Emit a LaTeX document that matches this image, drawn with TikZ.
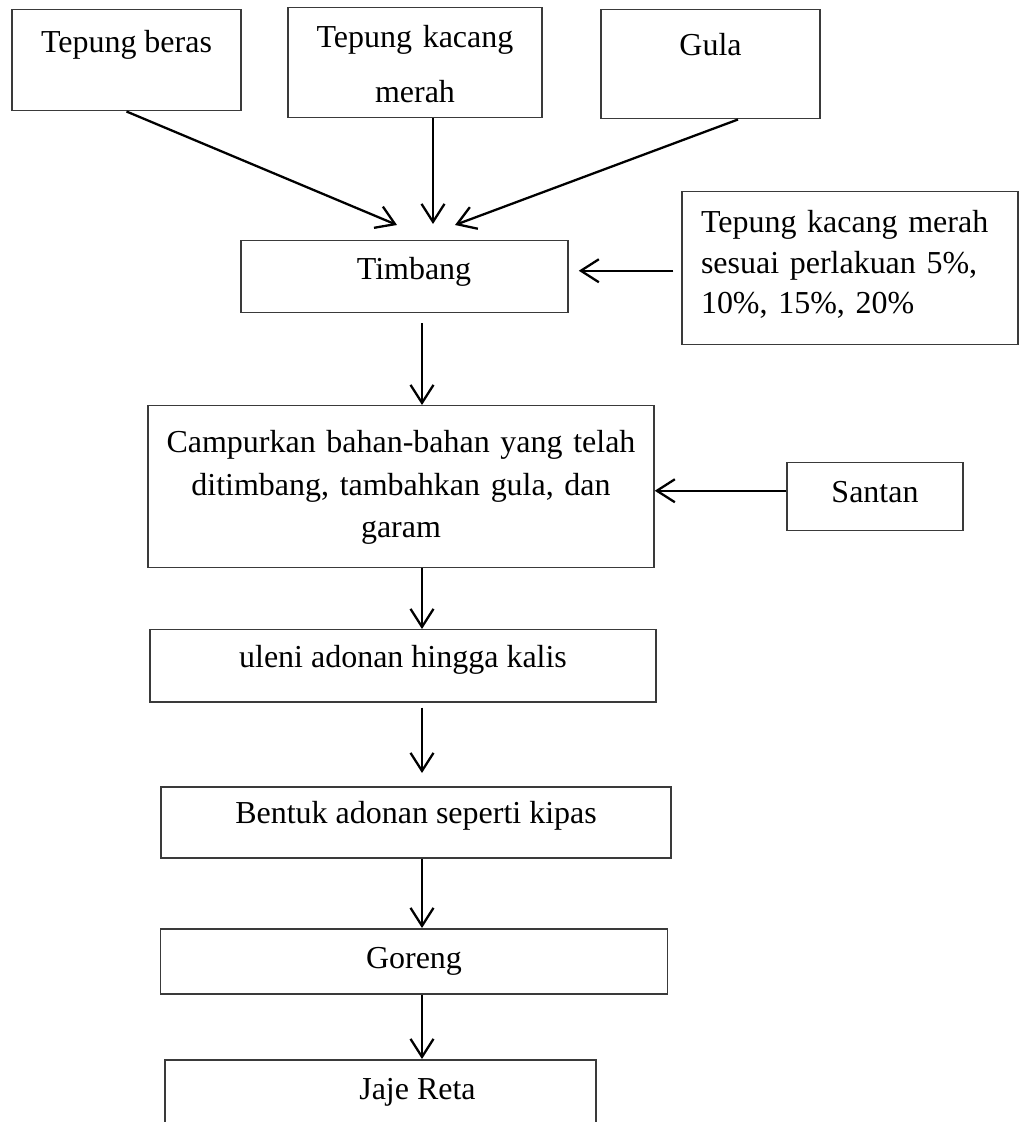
\documentclass[tikz,border=0pt]{standalone}
\usepackage{fontspec}
\setmainfont{Liberation Serif}
\usepackage{tikz}
\usetikzlibrary{arrows.meta,positioning,calc}
\definecolor{BoxLine}{HTML}{3A3A3A}
\tikzset{
  box/.style={draw=BoxLine,line width=0.85pt,inner sep=0pt,anchor=north,
    font=\fontsize{18.2}{23}\selectfont},
  arr/.style={-{Straight Barb[length=0.36cm,width=0.46cm]},line width=1.3pt},
}

\begin{document}
\begin{tikzpicture}[x=1cm,y=1cm]
  \useasboundingbox (0,0) rectangle (20.42,-22.44);
  \clip (0,0) rectangle (20.42,-22.44);

  \node[box,minimum width=4.58cm,minimum height=2.02cm,text height=0.86cm,text depth=1.16cm]
    (tb) at (2.53,-0.18) {Tepung beras};
  \node[box,minimum width=5.08cm,minimum height=2.20cm,text height=0.80cm,text depth=1.40cm,
    text width=5.0cm,align=center,font=\fontsize{18.2}{31.3}\selectfont]
    (tkm) at (8.30,-0.14) {Tepung kacang\\merah};
  \node[box,minimum width=4.38cm,minimum height=2.18cm,text height=0.92cm,text depth=1.26cm]
    (gula) at (14.21,-0.18) {Gula};

  \node[box,minimum width=6.54cm,minimum height=1.44cm,text height=0.78cm,text depth=0.66cm]
    (timbang) at (8.09,-4.80) {\hspace*{0.38cm}Timbang};
  \node[box,minimum width=6.72cm,minimum height=3.06cm,text height=0.82cm,text depth=2.24cm,
    text width=5.96cm,align=left]
    (tks) at (17.00,-3.82) {\makebox[\linewidth][s]{Tepung kacang merah}\\
      \makebox[\linewidth][s]{sesuai perlakuan 5\%,}\\10\%, 15\%, 20\%};

  \node[box,minimum width=10.12cm,minimum height=3.24cm,text height=0.94cm,text depth=2.30cm,
    text width=10.0cm,align=center,font=\fontsize{18.2}{24.2}\selectfont]
    (campur) at (8.02,-8.10) {Campurkan bahan-bahan yang telah\\ditimbang, tambahkan gula, dan\\garam};
  \node[box,minimum width=3.52cm,minimum height=1.36cm,text height=0.80cm,text depth=0.56cm]
    (santan) at (17.50,-9.24) {Santan};

  \node[box,minimum width=10.12cm,minimum height=1.44cm,text height=0.76cm,text depth=0.68cm]
    (uleni) at (8.06,-12.58) {uleni adonan hingga kalis};
  \node[box,minimum width=10.20cm,minimum height=1.42cm,text height=0.74cm,text depth=0.68cm]
    (bentuk) at (8.32,-15.72) {Bentuk adonan seperti kipas};
  \node[box,minimum width=10.13cm,minimum height=1.30cm,text height=0.80cm,text depth=0.50cm]
    (goreng) at (8.28,-18.56) {Goreng};
  \node[box,minimum width=8.62cm,minimum height=2.00cm,text height=0.80cm,text depth=1.20cm]
    (jaje) at (7.61,-21.18) {\hspace*{1.48cm}Jaje Reta};

  \coordinate (spine) at (8.44,0);

  \draw[arr] (tb.south) -- ($(timbang.north)+(-0.15,0.30)$);
  \draw[arr] ($(tkm.south)+(0.36,0)$) coordinate (tkmout) -- ($(tkmout |- timbang.north)+(0,0.32)$);
  \draw[arr] ($(gula.south)+(0.55,0)$) -- ($(timbang.north)+(1.01,0.30)$);
  \draw[arr] ($(tks.west)+(-0.16,-0.05)$) coordinate (tksout) -- ($(tksout -| timbang.east)+(0.2,0)$);
  \draw[arr] ($(timbang.south -| spine)+(0,-0.2)$) -- (campur.north -| spine);
  \draw[arr] ($(santan.west)+(0,0.12)$) coordinate (santanout) -- (santanout -| campur.east);
  \draw[arr] (campur.south -| spine) -- (uleni.north -| spine);
  \draw[arr] ($(uleni.south -| spine)+(0,-0.1)$) -- ($(bentuk.north -| spine)+(0,0.26)$);
  \draw[arr] (bentuk.south -| spine) -- (goreng.north -| spine);
  \draw[arr] (goreng.south -| spine) -- (jaje.north -| spine);
\end{tikzpicture}
\end{document}
